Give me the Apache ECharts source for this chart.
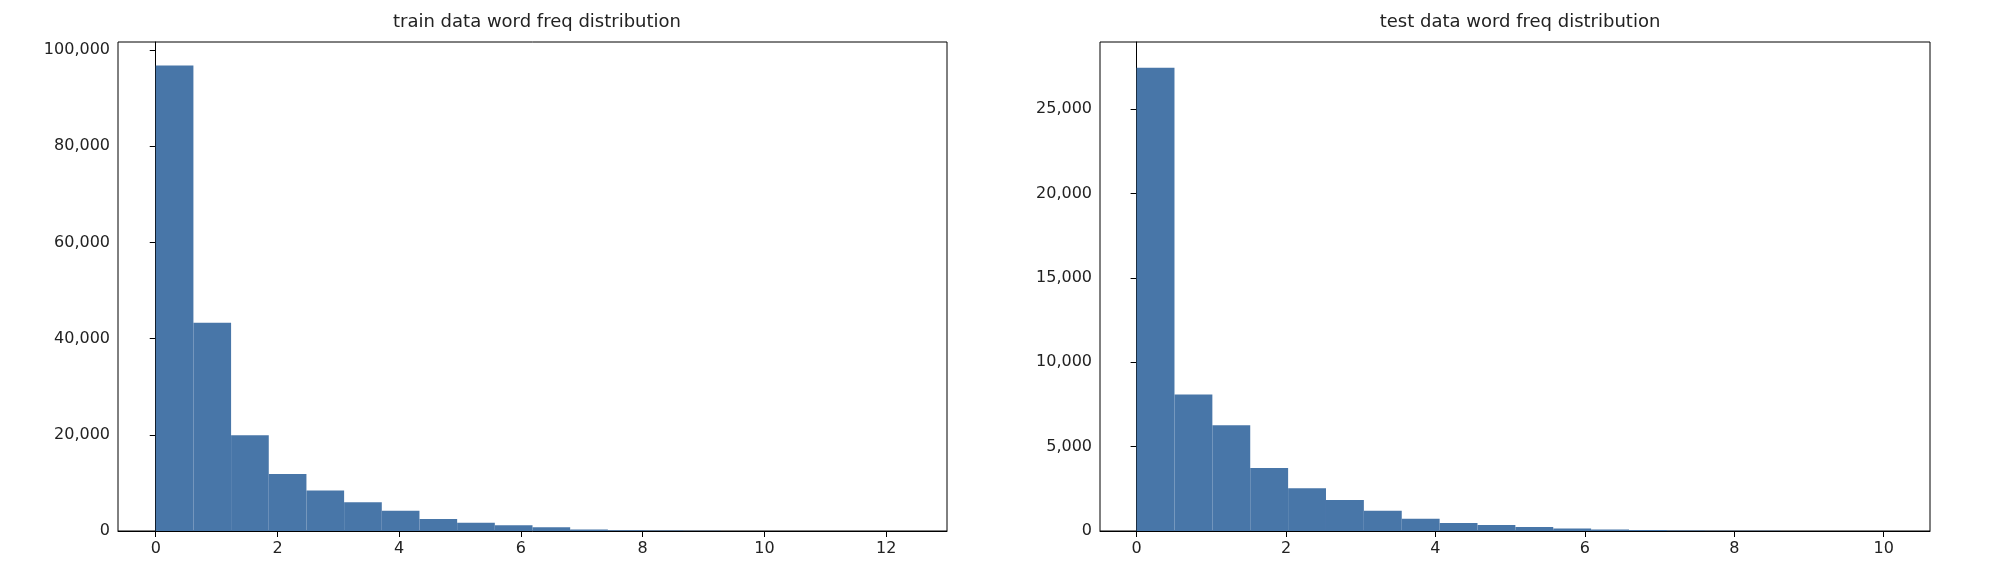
<!DOCTYPE html>
<html><head><meta charset="utf-8">
<script src="https://cdn.jsdelivr.net/npm/echarts@6/dist/echarts.min.js"></script>
<style>html,body{margin:0;background:#fff}#c{width:2006px;height:572px}</style>
</head><body><div id="c"></div>
<script>
// histogram counts
var trainCounts = [96800, 43300, 19900, 11870, 8430, 6000, 4200, 2500, 1700, 1200, 770, 300, 150, 80, 40, 20, 10, 5, 3, 2];
var trainBinWidth = 0.619;
var testCounts = [27450, 8090, 6260, 3740, 2540, 1830, 1200, 720, 480, 350, 240, 150, 90, 60, 30, 15, 8, 4, 2, 1];
var testBinWidth = 0.507;
var trainXTicks = [0, 2, 4, 6, 8, 10, 12];
var testXTicks = [0, 2, 4, 6, 8, 10];
var trainYTicks = [0, 20000, 40000, 60000, 80000, 100000];
var testYTicks = [0, 5000, 10000, 15000, 20000, 25000];

function bins(counts, w) {
  return counts.map(function (c, i) { return [i * w, (i + 1) * w, c]; });
}
var font = 'DejaVu Sans';
function xAxis(idx, min, max, ticks) {
  return {
    type: 'value', gridIndex: idx, min: min, max: max,
    axisLine: { show: true, onZero: false, lineStyle: { color: '#000' } },
    axisTick: { show: true, customValues: ticks, length: 6, lineStyle: { color: '#000' } },
    axisLabel: { customValues: ticks, color: '#222', fontFamily: font, fontSize: 16, margin: 10 },
    splitLine: { show: false }
  };
}
function yAxis(idx, max, ticks) {
  return {
    type: 'value', gridIndex: idx, min: 0, max: max,
    axisLine: { show: true, lineStyle: { color: '#000' } },
    axisTick: { show: true, customValues: ticks, length: 6, lineStyle: { color: '#000' } },
    axisLabel: { customValues: ticks, color: '#222', fontFamily: font, fontSize: 16, margin: 8 },
    splitLine: { show: false }
  };
}
function histSeries(idx, data) {
  return {
    type: 'custom', xAxisIndex: idx, yAxisIndex: idx, data: data,
    renderItem: function (params, api) {
      var p0 = api.coord([api.value(0), api.value(2)]);
      var p1 = api.coord([api.value(1), 0]);
      return { type: 'rect', shape: { x: p0[0], y: p0[1], width: p1[0] - p0[0], height: p1[1] - p0[1] },
        style: { fill: '#4876a8' } };
    }
  };
}
var chart = echarts.init(document.getElementById('c'));
chart.setOption({
  animation: false,
  title: [
    { text: 'train data word freq distribution', left: 532, top: 8, textAlign: 'center',
      textStyle: { fontFamily: font, fontSize: 18, fontWeight: 'normal', color: '#222' } },
    { text: 'test data word freq distribution', left: 1515, top: 8, textAlign: 'center',
      textStyle: { fontFamily: font, fontSize: 18, fontWeight: 'normal', color: '#222' } }
  ],
  grid: [
    { left: 118, top: 42, width: 829, height: 489, show: true, borderColor: '#000', borderWidth: 1 },
    { left: 1100, top: 42, width: 830, height: 489, show: true, borderColor: '#000', borderWidth: 1 }
  ],
  xAxis: [xAxis(0, -0.62, 13.0, trainXTicks), xAxis(1, -0.49, 10.62, testXTicks)],
  yAxis: [yAxis(0, 101700, trainYTicks), yAxis(1, 28980, testYTicks)],
  series: [histSeries(0, bins(trainCounts, trainBinWidth)), histSeries(1, bins(testCounts, testBinWidth))]
});
</script></body></html>
